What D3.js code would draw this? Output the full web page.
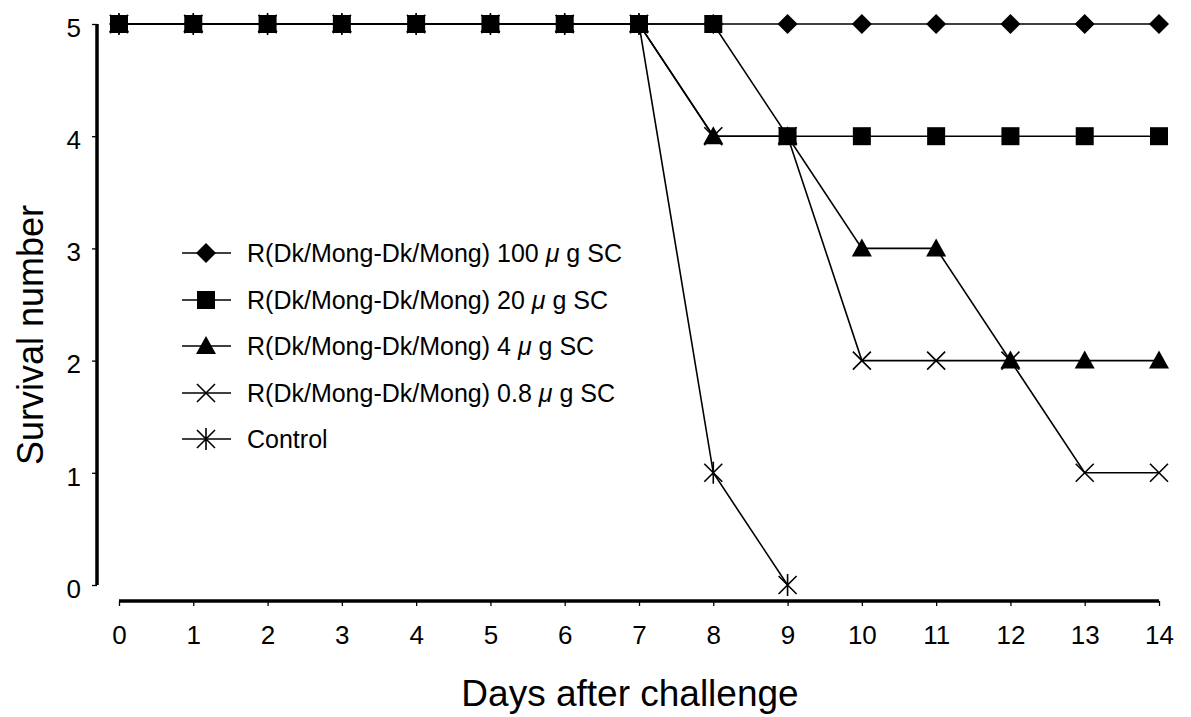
<!DOCTYPE html>
<html>
<head>
<meta charset="utf-8">
<script src="https://cdn.jsdelivr.net/npm/d3@7.9.0/dist/d3.min.js"></script>
<style>
  body { margin: 0; background: #fff; }
  svg { display: block; font-family: "Liberation Sans", Arial, sans-serif; }
</style>
</head>
<body>
<svg id="chart" width="1191" height="717"></svg>
<script>
// data
const days = [0, 1, 2, 3, 4, 5, 6, 7, 8, 9, 10, 11, 12, 13, 14];
const dose100 = [5, 5, 5, 5, 5, 5, 5, 5, 5, 5, 5, 5, 5, 5, 5];
const dose20 = [5, 5, 5, 5, 5, 5, 5, 5, 5, 4, 4, 4, 4, 4, 4];
const dose4 = [5, 5, 5, 5, 5, 5, 5, 5, 4, 4, 3, 3, 2, 2, 2];
const dose08 = [5, 5, 5, 5, 5, 5, 5, 5, 4, 4, 2, 2, 2, 1, 1];
const control = [5, 5, 5, 5, 5, 5, 5, 5, 1, 0, null, null, null, null, null];
const yTicks = [0, 1, 2, 3, 4, 5];
const seriesNames = [
  ["R(Dk/Mong-Dk/Mong) 100 ", "μ", " g SC"],
  ["R(Dk/Mong-Dk/Mong) 20 ", "μ", " g SC"],
  ["R(Dk/Mong-Dk/Mong) 4 ", "μ", " g SC"],
  ["R(Dk/Mong-Dk/Mong) 0.8 ", "μ", " g SC"],
  ["Control", "", ""]
];
const markers = ["diamond", "square", "triangle", "cross", "star"];
const seriesValues = [dose100, dose20, dose4, dose08, control];

const svg = d3.select("#chart");

const x = d3.scaleLinear().domain([0, 14]).range([119, 1159]);
const y = d3.scaleLinear().domain([0, 5]).range([585, 24]);

// axes
const xAxis = svg.append("g")
  .attr("transform", "translate(0,601)")
  .call(d3.axisBottom(x).tickValues(days).tickSize(5).tickPadding(20).tickFormat(d3.format("d")));
xAxis.select(".domain").attr("stroke-width", 3.5).attr("d", "M119,0H1159");
xAxis.selectAll(".tick line").attr("stroke-width", 1.3);
xAxis.selectAll(".tick text").attr("font-size", 26).attr("font-family", "Liberation Sans, Arial, sans-serif").attr("fill", "#000");

const yAxis = svg.append("g")
  .attr("transform", "translate(97,0)")
  .call(d3.axisLeft(y).tickValues(yTicks).tickSize(5).tickPadding(11).tickFormat(d3.format("d")));
yAxis.select(".domain").attr("stroke-width", 3.5).attr("d", "M0,24V585");
yAxis.selectAll(".tick line").attr("stroke-width", 1.3);
yAxis.selectAll(".tick text").attr("font-size", 26).attr("font-family", "Liberation Sans, Arial, sans-serif").attr("fill", "#000").attr("dy", "0.47em");

// axis titles
svg.append("text")
  .attr("x", 630).attr("y", 706)
  .attr("text-anchor", "middle")
  .attr("font-size", 37)
  .text("Days after challenge");

svg.append("text")
  .attr("transform", "translate(43,335) rotate(-90)")
  .attr("text-anchor", "middle")
  .attr("font-size", 36)
  .text("Survival number");

// marker drawing
function drawMarker(g, type, cx, cy) {
  if (type === "diamond") {
    g.append("path").attr("d", `M${cx},${cy - 10}L${cx + 10},${cy}L${cx},${cy + 10}L${cx - 10},${cy}Z`).attr("fill", "#000");
  } else if (type === "square") {
    g.append("rect").attr("x", cx - 9).attr("y", cy - 9).attr("width", 18).attr("height", 18).attr("fill", "#000");
  } else if (type === "triangle") {
    g.append("path").attr("d", `M${cx},${cy - 10}L${cx + 10},${cy + 8}L${cx - 10},${cy + 8}Z`).attr("fill", "#000");
  } else if (type === "cross") {
    g.append("path").attr("d", `M${cx - 9},${cy - 9}L${cx + 9},${cy + 9}M${cx - 9},${cy + 9}L${cx + 9},${cy - 9}`)
      .attr("stroke", "#000").attr("stroke-width", 1.6);
  } else if (type === "star") {
    g.append("path").attr("d", `M${cx - 9},${cy - 9}L${cx + 9},${cy + 9}M${cx - 9},${cy + 9}L${cx + 9},${cy - 9}M${cx},${cy - 11}V${cy + 11}`)
      .attr("stroke", "#000").attr("stroke-width", 1.6);
  }
}

const line = d3.line()
  .defined((d) => d != null)
  .x((d, i) => x(days[i]))
  .y((d) => y(d));

seriesValues.forEach((vals, s) => {
  const g = svg.append("g");
  g.append("path")
    .attr("d", line(vals))
    .attr("fill", "none")
    .attr("stroke", "#000")
    .attr("stroke-width", 1.6);
  vals.forEach((v, i) => {
    if (v != null) drawMarker(g, markers[s], x(days[i]), y(v));
  });
});

// legend
const legend = svg.append("g");
const legendY = [253, 300, 346, 393, 439];
seriesNames.forEach((name, s) => {
  const ly = legendY[s];
  legend.append("line")
    .attr("x1", 182).attr("x2", 231).attr("y1", ly).attr("y2", ly)
    .attr("stroke", "#000").attr("stroke-width", 1.6);
  drawMarker(legend, markers[s], 206, ly);
  const t = legend.append("text")
    .attr("x", 247).attr("y", ly + 9)
    .attr("font-size", 25);
  t.append("tspan").text(name[0]);
  if (name[1]) t.append("tspan").attr("font-style", "italic").text(name[1]);
  t.append("tspan").text(name[2]);
});
</script>
</body>
</html>
